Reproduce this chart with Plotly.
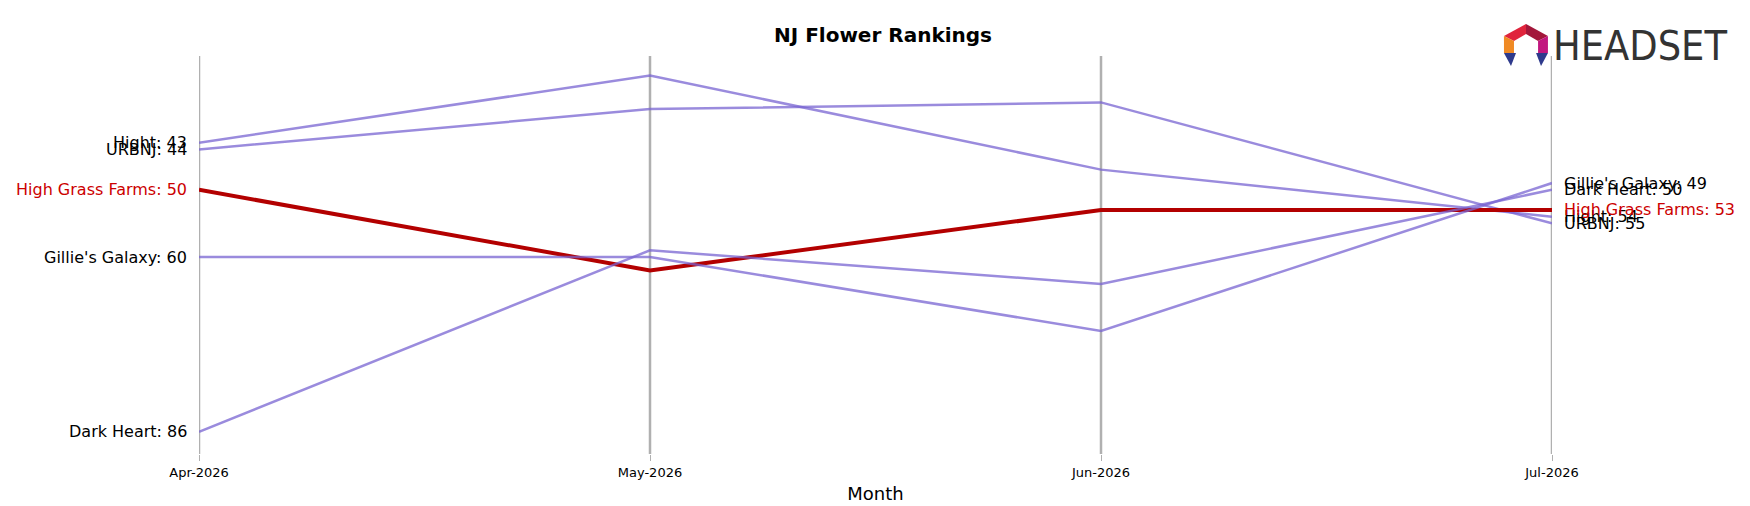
import plotly.graph_objects as go

months = ["Apr-2026", "May-2026", "Jun-2026", "Jul-2026"]
brands = ["Hight", "URBNJ", "High Grass Farms", "Gillie's Galaxy", "Dark Heart"]
ranks = {
    "Hight": [43, 33, 47, 54],
    "URBNJ": [44, 38, 37, 55],
    "High Grass Farms": [50, 62, 53, 53],
    "Gillie's Galaxy": [60, 60, 71, 49],
    "Dark Heart": [86, 59, 64, 50],
}
highlight = "High Grass Farms"

W, H = 1750, 506
L, R, T, B = 191, 206, 48, 60
PW, PH = W - L - R, H - T - B

def px(x, y):
    return (x - L) / PW, 1 - (y - T) / PH

fig = go.Figure()
for b in brands:
    hl = b == highlight
    fig.add_trace(go.Scatter(
        x=list(range(len(months))), y=ranks[b], mode="lines",
        line=dict(color="#b30000" if hl else "rgba(120,100,210,0.75)", width=4 if hl else 2.5),
        showlegend=False, hoverinfo="skip"))
    col = "#cc0000" if hl else "black"
    fig.add_annotation(x=0, y=ranks[b][0], text=f"{b}: {ranks[b][0]}", xanchor="right", xshift=-10,
                       showarrow=False, font=dict(size=16, color=col))
    fig.add_annotation(x=3, y=ranks[b][-1], text=f"{b}: {ranks[b][-1]}", xanchor="left", xshift=10,
                       showarrow=False, font=dict(size=16, color=col))

for i in range(len(months)):
    fig.add_shape(type="line", x0=i, x1=i, y0=0, y1=1, yref="y domain", layer="below",
                  line=dict(color="#b0b0b0", width=2.5))

# logo
lx, ly = px(1721, 12)
fig.add_annotation(xref="paper", yref="paper", x=lx, y=ly, text="HEADSET", showarrow=False,
                   xanchor="right", yanchor="top",
                   font=dict(size=41, color="#333333", family="DejaVu Sans Condensed"))
def poly(pts, color):
    p = [px(x, y) for x, y in pts]
    path = "M " + " L ".join(f"{a:.4f},{b:.4f}" for a, b in p) + " Z"
    fig.add_shape(type="path", xref="paper", yref="paper", path=path, fillcolor=color, line=dict(width=0))
poly([(1496, 28), (1518, 16), (1518, 26), (1506, 33)], "#e0243c")
poly([(1518, 16), (1540, 28), (1530, 33), (1518, 26)], "#a3173a")
poly([(1496, 28), (1506, 33), (1506, 46), (1496, 45)], "#f08a24")
poly([(1540, 28), (1540, 45), (1530, 46), (1530, 33)], "#c2177f")
poly([(1496, 45), (1508, 45), (1503, 58)], "#2e3a8c")
poly([(1528, 45), (1540, 45), (1533, 58)], "#2e3a8c")

fig.update_layout(
    width=W, height=H, plot_bgcolor="white", paper_bgcolor="white",
    margin=dict(l=L, r=R, t=T, b=B),
    title=dict(text="<b>NJ Flower Rankings</b>", x=0.5, y=0.96, xanchor="center",
               font=dict(size=20, color="black", family="DejaVu Sans")),
    font=dict(family="DejaVu Sans", color="black"),
    xaxis=dict(range=[0, 3], tickvals=list(range(4)), ticktext=months, showgrid=False, zeroline=False,
               ticks="outside", ticklen=6, tickcolor="#b0b0b0", tickfont=dict(size=13),
               title=dict(text="Month", font=dict(size=18), standoff=8)),
    yaxis=dict(range=[89.3, 30.1], visible=False),
)
fig.write_html("out.html")
